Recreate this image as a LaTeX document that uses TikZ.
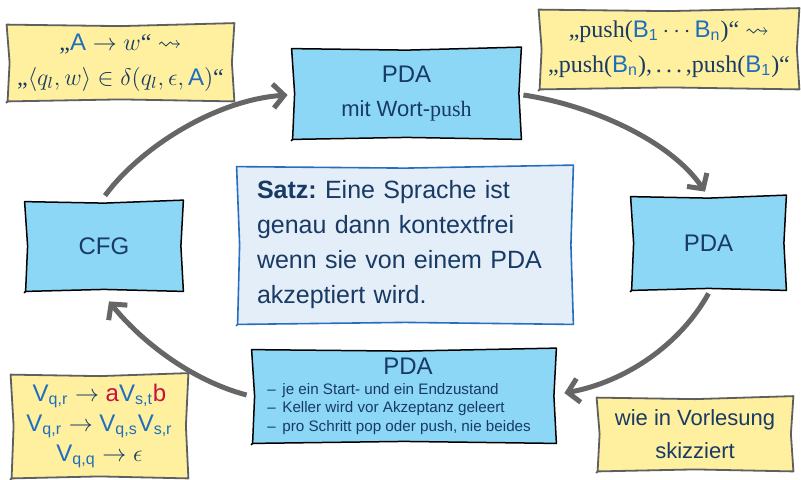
\documentclass[tikz,border=0pt]{standalone}
\usepackage{amsmath,amssymb}
\usepackage{fontspec}
\setsansfont{Liberation Sans}
\newfontfamily\pushfont{Liberation Serif}
\usetikzlibrary{arrows.meta,calc,backgrounds}
\definecolor{navy}{RGB}{24,58,100}
\definecolor{cblue}{RGB}{31,110,190}
\definecolor{cred}{RGB}{200,16,64}
\definecolor{boxfill}{RGB}{140,215,246}
\definecolor{notefill}{RGB}{255,240,160}
\definecolor{notedraw}{RGB}{95,95,95}
\definecolor{satzfill}{RGB}{228,238,248}
\definecolor{satzdraw}{RGB}{40,110,190}
\definecolor{arrowgrey}{RGB}{102,102,102}
\newcommand{\sB}[1]{\textcolor{cblue}{\textsf{B}_{\textsf{#1}}}}
\newcommand{\sV}[1]{\textcolor{cblue}{\textsf{V}_{\textsf{#1}}}}
\newcommand{\sA}{\textcolor{cblue}{\textsf{A}}}
\newcommand{\push}{{\pushfont push}}
\newcommand{\sketchbox}[2]{%
  \path[#2] ($(#1.north west)+(-1,0)$) -- ($(#1.north)+(0,1.5)$) -- ($(#1.north east)+(1,-1.5)$) -- ($(#1.east)+(-1.5,0)$) -- ($(#1.south east)+(1,1)$) -- ($(#1.south)+(0,-1)$) -- ($(#1.south west)+(0,1)$) -- ($(#1.west)+(2,0)$) -- cycle;
  \draw[#2,fill=none] ($(#1.south west)+(0,1)$) -- ++(-1.5,1.5);
}
\frenchspacing
\begin{document}
\begin{tikzpicture}[x=0.5pt,y=-0.5pt,
  bx/.style={inner sep=0pt, font=\sffamily\fontsize{12}{17}\selectfont, text=navy, align=center},
  note/.style={inner sep=0pt, text=navy, align=center},
  boxshape/.style={fill=boxfill, draw=black, line width=0.75pt, line join=round},
  noteshape/.style={fill=notefill, draw=notedraw, line width=0.9pt, line join=round},
  satzshape/.style={fill=satzfill, draw=satzdraw, line width=0.8pt, line join=round},
  arr/.style={draw=arrowgrey, line width=2.5pt, -{Straight Barb[length=5.5pt,width=12pt]}}]
\useasboundingbox (0,0) rectangle (801,479);

% main boxes
\node[bx, minimum width=113.5pt, minimum height=44.5pt] (top) at (406.5,93.5)
  {PDA\\ {\fontsize{11}{13}\selectfont mit Wort-\push}};
\node[bx, minimum width=78pt, minimum height=44pt] (cfg) at (104,246) {CFG};
\node[bx, minimum width=76.5pt, minimum height=46pt] (rpda) at (708.5,243) {PDA};
\node[bx, minimum width=151pt, minimum height=46pt] (bot) at (404,396) {};
\node[bx, anchor=base] (botT) at (408,374) {PDA};
\node[inner sep=0pt, anchor=west, text=navy, align=left,
  font=\sffamily\fontsize{7.6}{9.25}\selectfont] (botL) at (267,409)
  {\makebox[7.5pt][l]{–}je ein Start- und ein Endzustand\\
   \makebox[7.5pt][l]{–}Keller wird vor Akzeptanz geleert\\
   \makebox[7.5pt][l]{–}pro Schritt pop oder push, nie beides};

% theorem box
\node[inner xsep=9.5pt, inner ysep=0pt, text width=148pt, minimum height=78pt,
  align=left, text=navy, font=\sffamily\fontsize{12.5}{17.5}\selectfont] (satz) at (405,245)
  {\textbf{Satz:} Eine Sprache ist genau dann kontextfrei wenn sie von einem PDA akzeptiert wird.};

% notes
\node[note, minimum width=112.5pt, minimum height=37.5pt,
  font=\pushfont\fontsize{12}{17.5}\selectfont] (ntl) at (120.5,62.5)
  {„$\sA \rightarrow w$“ $\leadsto$\\
   „$\langle q_l, w\rangle \in \delta(q_l, \epsilon, \sA)$“};
\node[note, minimum width=129pt, minimum height=39pt,
  font=\pushfont\fontsize{12}{17.5}\selectfont] (ntr) at (669,49)
  {„push($\sB{1}\cdots\sB{n}$)“ $\leadsto$\\
   „push($\sB{n}$),\,.\,.\,.\,,push($\sB{1}$)“};
\node[note, minimum width=87.5pt, minimum height=51pt,
  font=\fontsize{12}{15}\selectfont] (nbl) at (99.5,426)
  {$\sV{q,r} \rightarrow \textcolor{cred}{\textsf{a}}\sV{s,t}\textcolor{cred}{\textsf{b}}$\\
   $\sV{q,r} \rightarrow \sV{q,s}\sV{s,r}$\\
   $\sV{q,q} \rightarrow \epsilon$};
\node[note, minimum width=97pt, minimum height=36pt,
  font=\sffamily\fontsize{11}{16.5}\selectfont] (nbr) at (695,434)
  {wie in Vorlesung\\ skizziert};

\begin{pgfonlayer}{background}
  \fill[white] (0,0) rectangle (801,479);
  \sketchbox{top}{boxshape}
  \sketchbox{cfg}{boxshape}
  \sketchbox{rpda}{boxshape}
  \sketchbox{bot}{boxshape}
  \sketchbox{satz}{satzshape}
  \sketchbox{ntl}{noteshape}
  \sketchbox{ntr}{noteshape}
  \sketchbox{nbl}{noteshape}
  \sketchbox{nbr}{noteshape}
\end{pgfonlayer}

% cycle arrows
\draw[arr] ($(cfg.north)+(1,-6)$) .. controls (140,148) and (215,100) .. ($(top.west)+(-5,1.5)$);
\draw[arr] ($(top.east)+(3,1.5)$) .. controls (590,105) and (670,140) .. ($(rpda.north)+(-3.5,-5)$);
\draw[arr] ($(rpda.south)+(0,4)$) .. controls (680,345) and (625,382) .. ($(bot.east)+(9,-3)$);
\draw[arr] ($(bot.west)+(-6,-1)$) .. controls (190,380) and (140,340) .. ($(cfg.south)+(5,11)$);
\end{tikzpicture}
\end{document}
